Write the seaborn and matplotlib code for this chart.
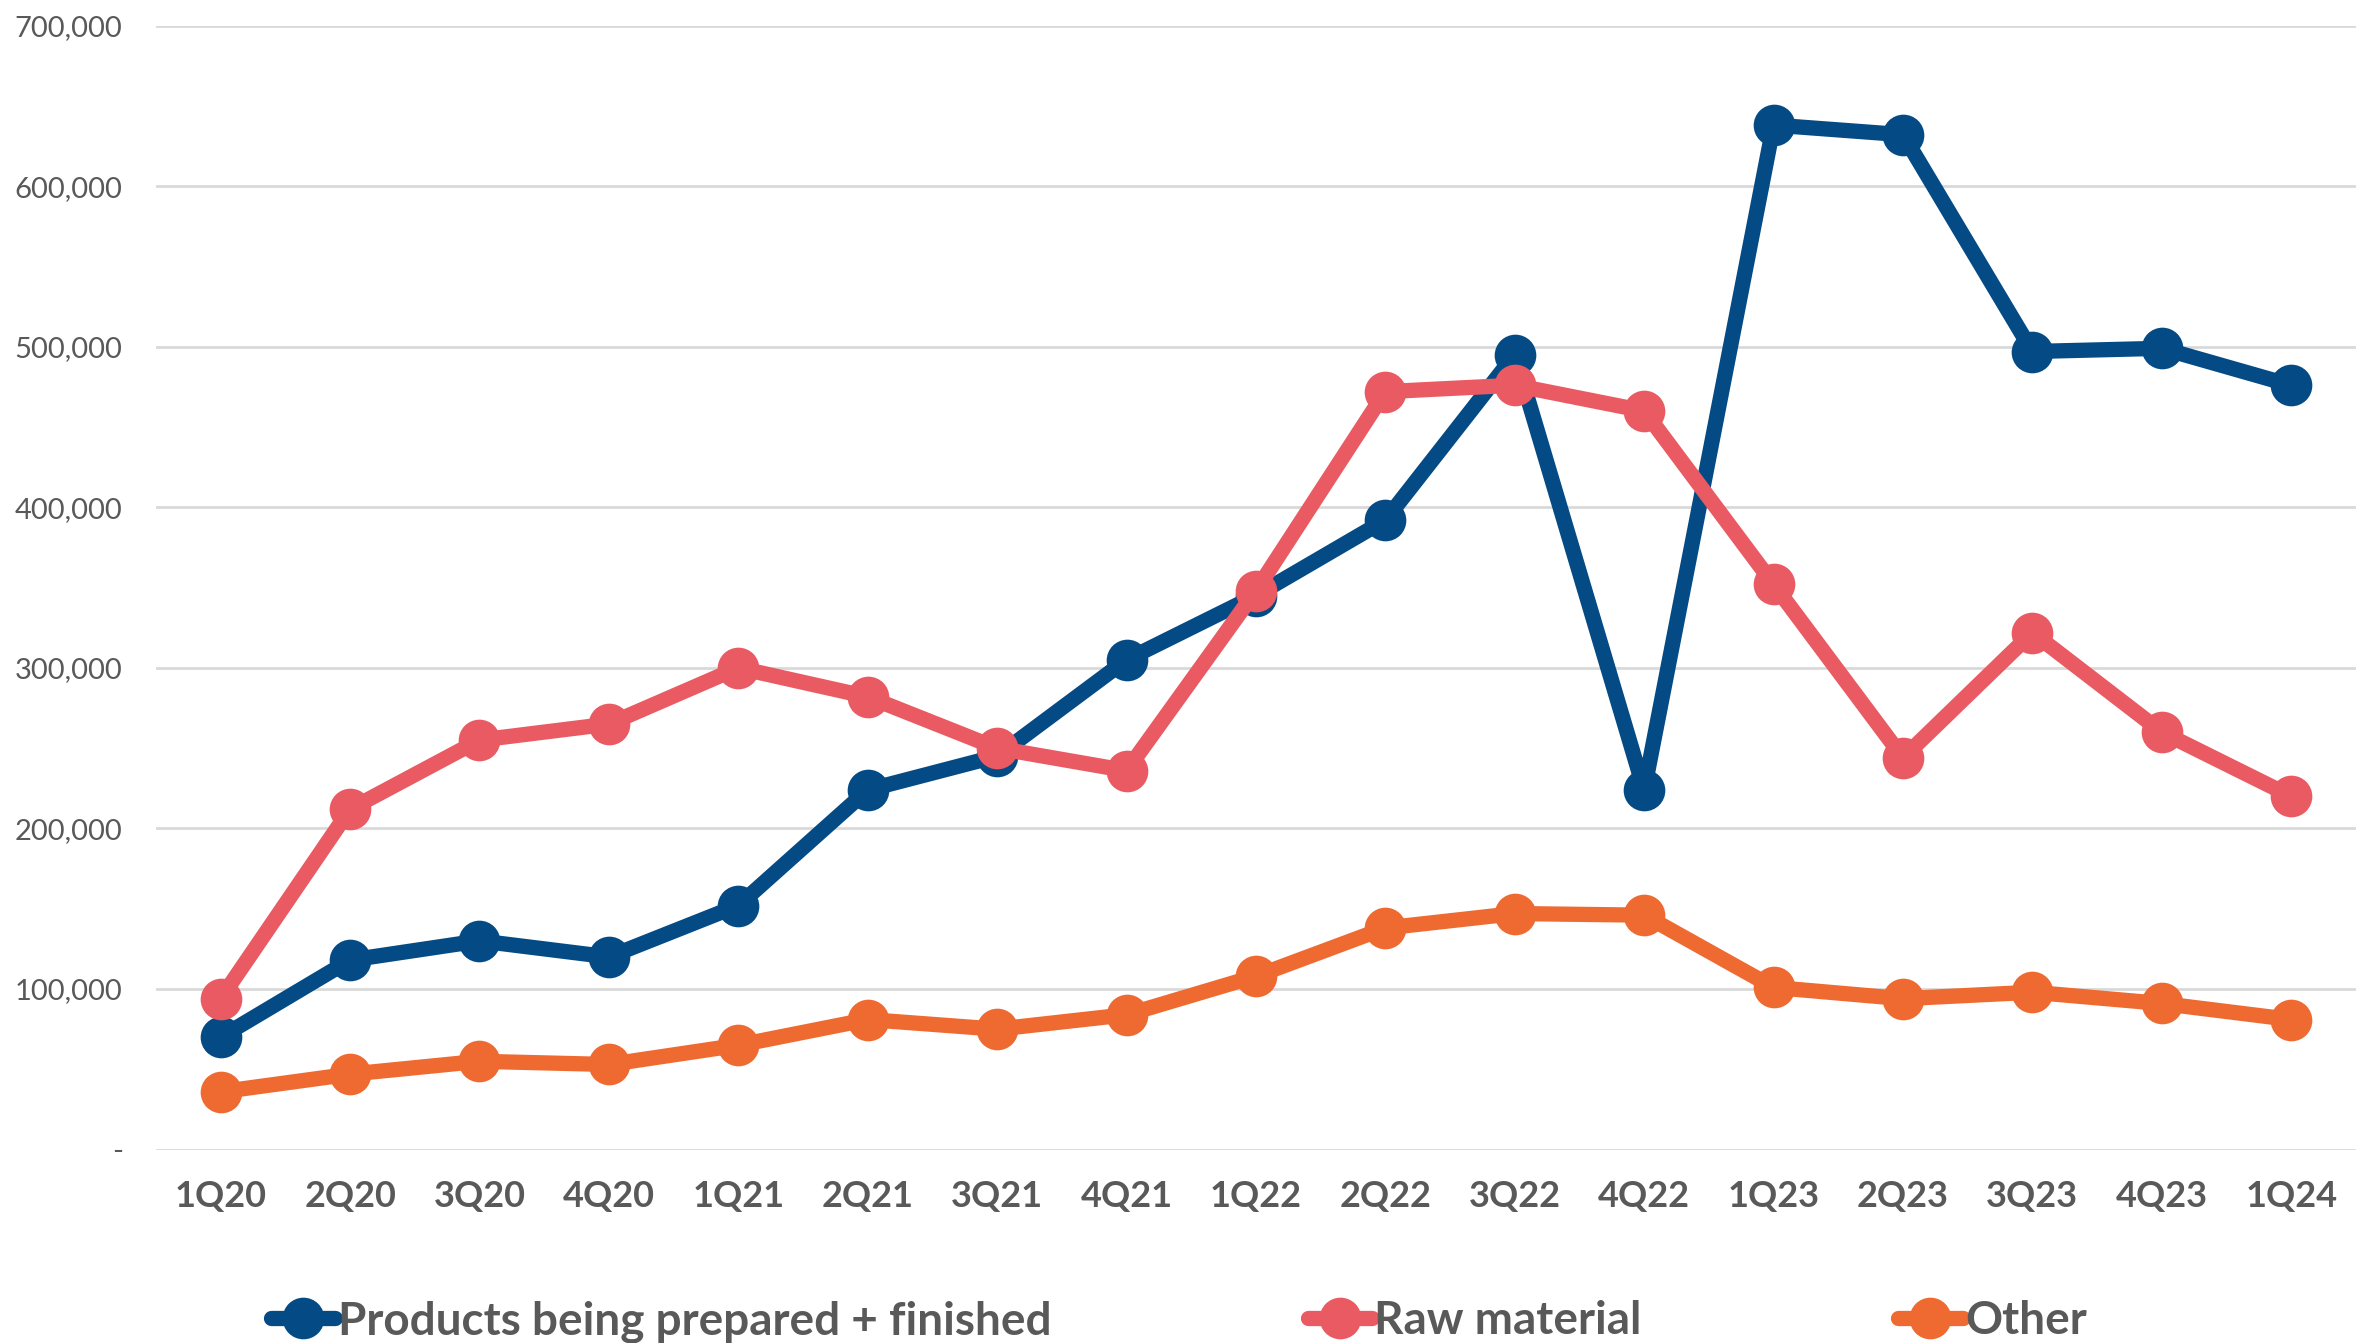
import matplotlib
matplotlib.use("Agg")
import matplotlib.pyplot as plt
import matplotlib.ticker as mticker
import pandas as pd
import seaborn as sns

quarters = ["1Q20", "2Q20", "3Q20", "4Q20", "1Q21", "2Q21", "3Q21", "4Q21", "1Q22",
            "2Q22", "3Q22", "4Q22", "1Q23", "2Q23", "3Q23", "4Q23", "1Q24"]
products = [70000, 118000, 130000, 120000, 152000, 224000, 245000, 305000, 345000,
            392000, 495000, 224000, 638000, 632000, 497000, 499000, 476000]
raw_material = [94000, 212000, 255000, 265000, 300000, 282000, 250000, 236000, 348000,
                472000, 476000, 460000, 352000, 244000, 322000, 260000, 220000]
other = [36000, 47000, 55000, 53000, 65000, 81000, 75000, 84000, 108000,
         138000, 147000, 146000, 101000, 94000, 98000, 91000, 81000]

series_names = ["Products being prepared + finished", "Raw material", "Other"]
colors = ["#044A84", "#E95A63", "#EE6A30"]

df = pd.DataFrame({"quarter": quarters, series_names[0]: products,
                   series_names[1]: raw_material, series_names[2]: other})
long_df = df.melt(id_vars="quarter", var_name="series", value_name="value")

sns.set_style("white")
plt.rcParams["font.family"] = ["Lato", "DejaVu Sans"]

fig, ax = plt.subplots(figsize=(23.63, 13.43), dpi=100)
fig.subplots_adjust(left=0.066, right=0.997, top=0.981, bottom=0.144)

sns.lineplot(data=long_df, x="quarter", y="value", hue="series", hue_order=series_names,
             palette=colors, marker="o", markersize=30, markeredgewidth=0,
             linewidth=11, ax=ax, sort=False)

ax.set_xlim(-0.5, len(quarters) - 0.5)
ax.set_ylim(0, 700000)
ax.yaxis.set_major_locator(mticker.MultipleLocator(100000))
ax.yaxis.set_major_formatter(mticker.FuncFormatter(lambda v, p: "-" if v == 0 else f"{v:,.0f}"))
ax.grid(axis="y", color="#D9D9D9", linewidth=2)
ax.set_axisbelow(True)
for s in ax.spines.values():
    s.set_visible(False)
ax.tick_params(axis="y", length=0, labelsize=21, labelcolor="#595959", pad=24)
ax.tick_params(axis="x", length=0, labelsize=26, labelcolor="#595959", pad=22)
for lbl in ax.get_xticklabels():
    lbl.set_fontweight("bold")
ax.set_xlabel("")
ax.set_ylabel("")

handles, labels = ax.get_legend_handles_labels()
leg = ax.legend(handles, labels, loc="center", bbox_to_anchor=(0.465, -0.153), ncol=3,
                frameon=False, columnspacing=5.6, handlelength=1.4, handletextpad=0.05,
                prop={"weight": "bold", "size": 33})
for t in leg.get_texts():
    t.set_color("#595959")

fig.savefig("out.png", dpi=100)
